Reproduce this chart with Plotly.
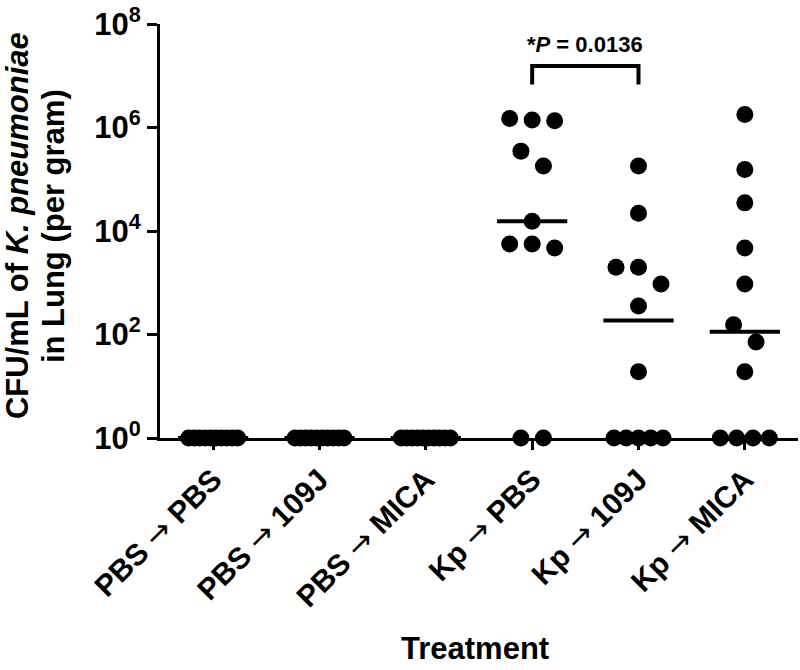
import numpy as np
import plotly.graph_objects as go

# ---------------- data ----------------
categories = ["PBS \u2192 PBS", "PBS \u2192 109J", "PBS \u2192 MICA",
              "Kp \u2192 PBS", "Kp \u2192 109J", "Kp \u2192 MICA"]

pbs_pbs = [1] * 10
pbs_109j = [1] * 10
pbs_mica = [1] * 10
kp_pbs = [1.5e6, 1.4e6, 1.35e6, 3.5e5, 1.8e5, 1.55e4, 5.6e3, 5.6e3, 4.7e3, 1, 1]
kp_109j = [1.8e5, 2.2e4, 2.0e3, 2.0e3, 950, 355, 19, 1, 1, 1, 1, 1]
kp_mica = [1.78e6, 1.55e5, 3.5e4, 4.7e3, 950, 155, 72, 19, 1, 1, 1, 1]

groups = [pbs_pbs, pbs_109j, pbs_mica, kp_pbs, kp_109j, kp_mica]

y_tick_vals = [1, 1e2, 1e4, 1e6, 1e8]
y_tick_text = ["10<sup>0</sup>", "10<sup>2</sup>", "10<sup>4</sup>",
               "10<sup>6</sup>", "10<sup>8</sup>"]

y_title_lines = ["CFU/mL of <i>K. pneumoniae</i>", "in Lung (per gram)"]
x_title = "Treatment"

sig_pair = (3, 4)
sig_text = "*<i>P</i> = 0.0136"

# ---------------- layout constants ----------------
W, H = 800, 670
ML, MR, MT, MB = 160, 2, 14, 232
PLOT_W = W - ML - MR
PLOT_H = H - MT - MB
X_RANGE = [-0.5, 5.5]
Y_RANGE = [0, 8.001]
PX_PER_CAT = PLOT_W / (X_RANGE[1] - X_RANGE[0])
PX_PER_DEC = PLOT_H / (Y_RANGE[1] - Y_RANGE[0])
MARKER = 17
GAP_DEC = 18 / PX_PER_DEC
MAX_STEP = 22.5 / PX_PER_CAT
SPAN = (66 - MARKER) / PX_PER_CAT
FONT = "Liberation Sans, Arial, Helvetica, sans-serif"


def swarm_offsets(vals):
    logs = np.log10(np.asarray(vals, dtype=float))
    order = np.argsort(-logs, kind="stable")
    clusters = []
    for idx in order:
        if clusters and logs[clusters[-1][-1]] - logs[idx] < GAP_DEC:
            clusters[-1].append(idx)
        else:
            clusters.append([idx])
    offs = np.zeros(len(logs))
    for c in clusters:
        n = len(c)
        if n == 1:
            continue
        step = min(MAX_STEP, SPAN / (n - 1))
        for k, idx in enumerate(c):
            offs[idx] = (k - (n - 1) / 2) * step
    return offs


def thin_arrow(label):
    return label.replace(
        "\u2192",
        "<span style='font-family:DejaVu Sans;font-weight:normal'>\u2192</span>")


def px_x(px):
    return (px - ML) / PLOT_W


def px_y(py):
    return (H - MB - py) / PLOT_H


fig = go.Figure()

for i, vals in enumerate(groups):
    offs = swarm_offsets(vals)
    fig.add_trace(go.Scatter(
        x=i + offs, y=vals, mode="markers",
        marker=dict(size=MARKER, color="black", line=dict(width=0)),
        cliponaxis=False, showlegend=False, hoverinfo="skip"))
    med = float(np.median(vals))
    fig.add_trace(go.Scatter(
        x=[i - 0.33, i + 0.33], y=[med, med], mode="lines",
        line=dict(color="black", width=4),
        cliponaxis=False, showlegend=False, hoverinfo="skip"))

# significance bracket
a, b = sig_pair
y_top = 10 ** 7.19
y_leg = 10 ** 6.83
fig.add_trace(go.Scatter(
    x=[a, a, b, b], y=[y_leg, y_top, y_top, y_leg], mode="lines",
    line=dict(color="black", width=4),
    cliponaxis=False, showlegend=False, hoverinfo="skip"))
fig.add_annotation(
    x=(a + b) / 2, y=7.33, xref="x", yref="y", text=sig_text,
    showarrow=False, font=dict(family=FONT, size=22, color="black", weight="bold"),
    xanchor="center", yanchor="bottom")

# axis titles as annotations
for line, cx in zip(y_title_lines, [17, 53]):
    fig.add_annotation(
        x=px_x(cx), y=px_y(221), xref="paper", yref="paper",
        text=line, textangle=-90, showarrow=False,
        xanchor="center", yanchor="middle",
        font=dict(family=FONT, size=31, color="black", weight="bold"))
fig.add_annotation(
    x=px_x(475), y=px_y(654), xref="paper", yref="paper",
    text=x_title, showarrow=False, xanchor="center", yanchor="middle",
    font=dict(family=FONT, size=31, color="black", weight="bold"))

fig.update_layout(
    width=W, height=H,
    margin=dict(l=ML, r=MR, t=MT, b=MB, pad=0),
    paper_bgcolor="white", plot_bgcolor="white",
    font=dict(family=FONT, color="black"),
    xaxis=dict(
        range=X_RANGE, tickmode="array", tickvals=list(range(len(categories))),
        ticktext=[thin_arrow(c) for c in categories], tickangle=-45,
        tickfont=dict(family=FONT, size=30, color="black", weight="bold"),
        showline=True, linewidth=3, linecolor="black",
        ticks="outside", ticklen=9, tickwidth=3, tickcolor="black",
        showgrid=False, zeroline=False, layer="below traces",
        ticklabeloverflow="allow"),
    yaxis=dict(
        type="log", range=Y_RANGE, tickmode="array",
        tickvals=y_tick_vals, ticktext=y_tick_text,
        tickfont=dict(family=FONT, size=31, color="black", weight="bold"),
        showline=True, linewidth=3, linecolor="black",
        ticks="outside", ticklen=10, tickwidth=3, tickcolor="black",
        showgrid=False, zeroline=False, layer="below traces",
        ticklabeloverflow="allow"),
)

fig.write_html("out.html",
               config={"displayModeBar": False},
               post_script="document.body.style.margin='0px';")
